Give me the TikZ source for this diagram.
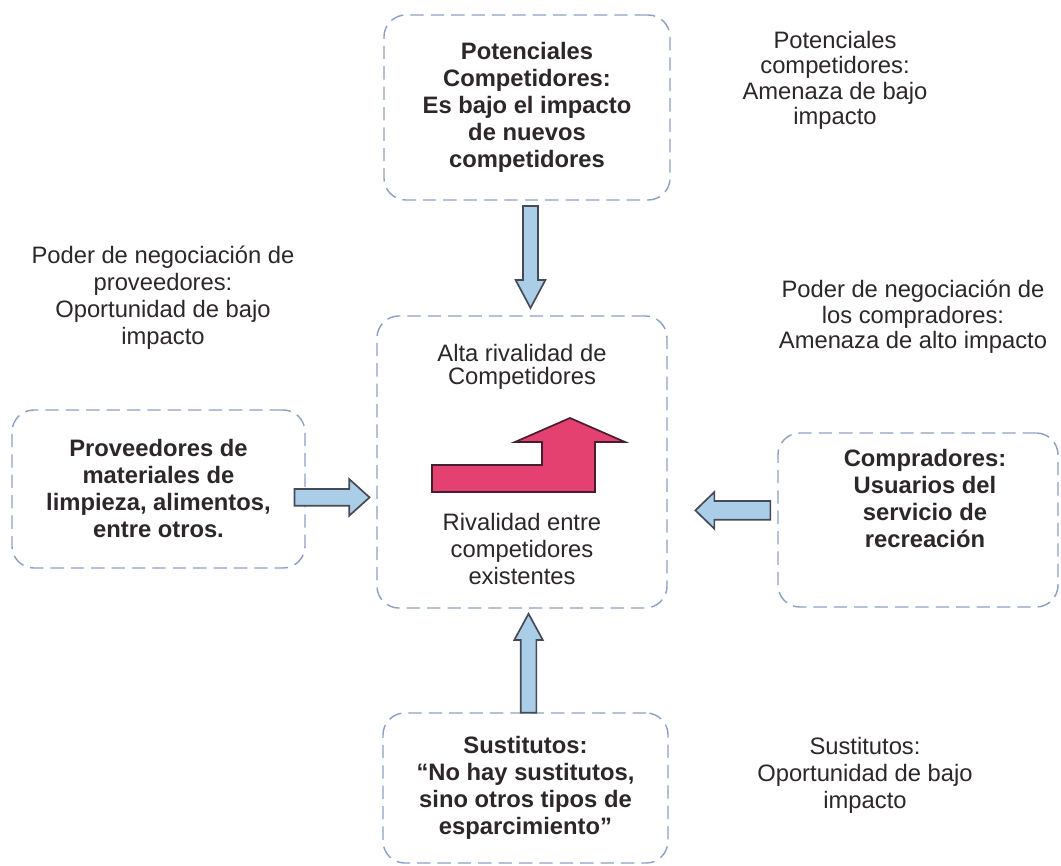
\documentclass[tikz,border=0pt]{standalone}
\usepackage{fontspec}
\setmainfont{Liberation Sans}
\usetikzlibrary{shapes.arrows,calc}
\definecolor{txt}{RGB}{45,38,42}
\definecolor{bord}{RGB}{140,160,198}
\definecolor{ablue}{RGB}{170,206,232}
\definecolor{aline}{RGB}{70,74,84}
\definecolor{rpink}{RGB}{228,64,112}
\definecolor{rline}{RGB}{70,30,45}

\begin{document}
\begin{tikzpicture}[x=0.025cm, y=-0.025cm, every node/.style={text=txt, align=center, font=\fontsize{16.9}{19.2}\selectfont}, thick]

\tikzstyle{box}=[draw=bord, dash pattern=on 9.5pt off 5pt, line width=1pt, rounded corners=0.55cm, inner sep=0pt, font=\fontsize{16.9}{19.2}\selectfont\bfseries]
\tikzstyle{blk}=[single arrow, draw=aline, fill=ablue, line width=1.2pt, single arrow head indent=0pt]

\useasboundingbox[fill=white] (0,0) rectangle (1061,866);

% las cinco fuerzas
\node[box, minimum width=7.15cm, minimum height=4.625cm] (np) at (527,107.5) {Potenciales\\Competidores:\\Es bajo el impacto\\de nuevos\\competidores};
\node[box, minimum width=7.25cm, minimum height=7.3cm] (nr) at (522,462) {};
\node[box, minimum width=7.325cm, minimum height=3.95cm] (nv) at (158.5,489) {Proveedores de\\materiales de\\limpieza, alimentos,\\entre otros.};
\node[box, minimum width=7cm, minimum height=4.35cm] (nm) at (918,520) {};
\node[box, minimum width=7.125cm, minimum height=3.75cm] (ns) at (525.5,788) {Sustitutos:\\“No hay sustitutos,\\sino otros tipos de\\esparcimiento”};

\node[font=\fontsize{16.9}{19.2}\selectfont\bfseries] (nmt) at (925,499) {Compradores:\\Usuarios del\\servicio de\\recreación};
\node[font=\fontsize{16.9}{16}\selectfont] (nra) at (522,367) {Alta rivalidad de\\Competidores};
\node (nrb) at (522,549) {Rivalidad entre\\competidores\\existentes};

% flecha de rivalidad
\draw[fill=rpink, draw=rline, line width=1.2pt] (432,465) -- (542,465) -- (542,442) -- (515,442) -- (570,418) -- (625,442) -- (595,442) -- (595,492) -- (432,492) -- cycle;

% flechas hacia el centro
\node[blk, shape border rotate=270, single arrow tip angle=56, minimum height=2.55cm, inner xsep=0.165cm, inner ysep=0pt, single arrow head extend=0.185cm] (ap) at ([xshift=0.15cm, yshift=0.2cm]$(np.south)!0.5!(nr.north)$) {};
\node[blk, single arrow tip angle=84, minimum height=1.875cm, inner xsep=0pt, inner ysep=0.1875cm, single arrow head extend=0.25cm] (av) at ([xshift=-0.34cm, yshift=-0.21cm]$(nv.east)!0.5!(nv.east -| nr.west)$) {};
\node[blk, shape border rotate=180, single arrow tip angle=88, minimum height=1.875cm, inner xsep=0pt, inner ysep=0.2125cm, single arrow head extend=0.225cm] (am) at ([xshift=0.38cm, yshift=0.24cm]$(nm.west)!0.5!(nm.west -| nr.east)$) {};
\node[blk, shape border rotate=90, single arrow tip angle=57, minimum height=2.475cm, inner xsep=0.175cm, inner ysep=0pt, single arrow head extend=0.16cm] (as) at ([xshift=0.12cm, yshift=-0.25cm]$(nr.south)!0.5!(ns.north)$) {};

% comentarios
\node[font=\fontsize{16.9}{18}\selectfont] (lp) at (835,80.5) {Potenciales\\competidores:\\Amenaza de bajo\\impacto};
\node (lv) at (163,297.5) {Poder de negociación de\\proveedores:\\Oportunidad de bajo\\impacto};
\node[font=\fontsize{16.9}{18}\selectfont] (lm) at (913,317) {Poder de negociación de\\los compradores:\\Amenaza de alto impacto};
\node (ls) at (865,775) {Sustitutos:\\Oportunidad de bajo\\impacto};
\end{tikzpicture}
\end{document}
